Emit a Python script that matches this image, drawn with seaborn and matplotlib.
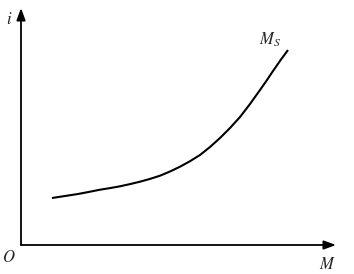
import matplotlib
matplotlib.use("Agg")
import matplotlib.pyplot as plt
import seaborn as sns
import pandas as pd

# curve readings (arbitrary units, origin at axes corner)
m_vals = [31, 44, 57, 68, 79, 89, 99, 109, 119, 129, 139, 149, 159, 169, 179,
          189, 199, 209, 219, 229, 239, 246, 252, 260, 267]
i_vals = [47, 49, 51, 53.1, 55.3, 56.9, 58.7, 60.9, 63.3, 66.1, 69.3, 73.5, 78.3,
          83.8, 90, 98, 107, 117, 128, 141, 155, 165, 174, 185.5, 195]
curve_label = "$M_S$"
x_label = "$M$"
y_label = "$i$"
origin_label = "$O$"

sns.set_theme(style="white")
plt.rcParams["mathtext.fontset"] = "stix"
plt.rcParams["font.family"] = ["Liberation Serif", "DejaVu Serif"]

W, H = 354, 274
fig = plt.figure(figsize=(W / 100, H / 100), dpi=100)
x0, y0, x1, y1 = 21, 245, 336, 8
ax = fig.add_axes([x0 / W, (H - y0) / H, (x1 - x0) / W, (y0 - y1) / H])
df = pd.DataFrame({"M": m_vals, "i": i_vals})
sns.lineplot(data=df, x="M", y="i", ax=ax, color="black", linewidth=1.5,
             solid_joinstyle="round", solid_capstyle="butt")
ax.set_xlim(0, x1 - x0)
ax.set_ylim(0, y0 - y1)
for s in ax.spines.values():
    s.set_visible(False)
ax.set_xticks([])
ax.set_yticks([])
ax.set_xlabel("")
ax.set_ylabel("")

arrow = dict(arrowstyle="-|>,head_length=0.6,head_width=0.22", color="black", lw=1.3,
             shrinkA=0, shrinkB=0)
ax.annotate("", xy=(1, 0), xytext=(0, 0), xycoords="axes fraction", arrowprops=arrow,
            annotation_clip=False)
ax.annotate("", xy=(0, 1), xytext=(0, 0), xycoords="axes fraction", arrowprops=arrow,
            annotation_clip=False)

fig.text(9 / W, 1 - 20 / H, y_label, fontsize=12, ha="center", va="center")
fig.text(9 / W, 1 - 258 / H, origin_label, fontsize=12, ha="center", va="center")
fig.text(327 / W, 1 - 265 / H, x_label, fontsize=12, ha="center", va="center")
fig.text(270 / W, 1 - 40 / H, curve_label, fontsize=12, ha="center", va="center")

fig.savefig("out.png", dpi=100)
